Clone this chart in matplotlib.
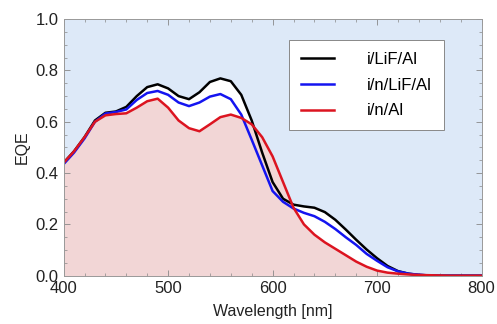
import numpy as np
import matplotlib.pyplot as plt
from matplotlib.ticker import MultipleLocator

# wavelength grid [nm]
wl = np.arange(400, 801, 10)

# EQE curves
eqe_lif = [0.44, 0.485, 0.54, 0.605, 0.635, 0.64, 0.658, 0.70, 0.735, 0.746,
           0.73, 0.70, 0.688, 0.715, 0.755, 0.769, 0.758, 0.705, 0.605, 0.48,
           0.365, 0.30, 0.277, 0.27, 0.265, 0.248, 0.218, 0.18, 0.14, 0.102,
           0.068, 0.038, 0.018, 0.008, 0.003, 0.001, 0, 0, 0, 0, 0]
eqe_n_lif = [0.435, 0.48, 0.535, 0.60, 0.632, 0.638, 0.648, 0.685, 0.712, 0.72,
             0.705, 0.675, 0.661, 0.675, 0.698, 0.708, 0.688, 0.628, 0.53, 0.43,
             0.33, 0.288, 0.262, 0.245, 0.232, 0.21, 0.182, 0.15, 0.12, 0.085,
             0.058, 0.033, 0.017, 0.008, 0.004, 0.001, 0, 0, 0, 0, 0]
eqe_n_al = [0.44, 0.485, 0.54, 0.60, 0.625, 0.63, 0.633, 0.655, 0.68, 0.69,
            0.655, 0.605, 0.575, 0.563, 0.59, 0.618, 0.628, 0.615, 0.59, 0.54,
            0.465, 0.365, 0.265, 0.2, 0.16, 0.13, 0.105, 0.08, 0.055, 0.035,
            0.02, 0.012, 0.008, 0.005, 0.003, 0.002, 0.001, 0, 0, 0, 0]
labels = ["i/LiF/Al", "i/n/LiF/Al", "i/n/Al"]

black = np.array(eqe_lif)
blue = np.array(eqe_n_lif)
red = np.array(eqe_n_al)

plt.rcParams['font.family'] = ['Liberation Sans', 'DejaVu Sans']

fig = plt.figure(figsize=(4.97, 3.24), dpi=100)
ax = fig.add_axes([0.128, 0.149, 0.841, 0.792])
ax.set_facecolor('#dde9f8')

# shaded areas: pink under red curve, white between red and the top curve
top = np.maximum(black, blue)
ax.fill_between(wl, 0, red, color='#f2d6d6', lw=0)
ax.fill_between(wl, red, top, where=top > red, interpolate=True, color='white', lw=0)

ax.plot(wl, black, color='black', lw=1.8, label=labels[0])
ax.plot(wl, blue, color='#1414f0', lw=1.8, label=labels[1])
ax.plot(wl, red, color='#dc1420', lw=1.8, label=labels[2])

ax.set_xlim(400, 800)
ax.set_ylim(0, 1.0)
ax.xaxis.set_major_locator(MultipleLocator(100))
ax.xaxis.set_minor_locator(MultipleLocator(20))
ax.yaxis.set_major_locator(MultipleLocator(0.2))
ax.yaxis.set_minor_locator(MultipleLocator(0.05))
ax.tick_params(which='both', direction='in', top=True, right=True, colors='#888888',
               labelcolor='#222222', labelsize=12)
ax.tick_params(which='major', length=4, width=0.6)
ax.tick_params(which='minor', length=2.5, width=0.5)
for s in ax.spines.values():
    s.set_color('#999999')
    s.set_linewidth(0.7)

ax.set_xlabel("Wavelength [nm]", fontsize=11.5, color='#222222', labelpad=6)
ax.set_ylabel("EQE", fontsize=11.5, color='#222222')

leg = ax.legend(loc='upper left', bbox_to_anchor=(0.5815, 0.8765), bbox_transform=fig.transFigure,
                fontsize=12, frameon=True, fancybox=False, handlelength=2.0,
                handletextpad=2.0, labelspacing=0.65, borderpad=0.7, borderaxespad=0)
leg.get_frame().set_edgecolor('#888888')
leg.get_frame().set_linewidth(0.7)
leg.get_frame().set_alpha(1)

fig.savefig("out.png", dpi=100)
